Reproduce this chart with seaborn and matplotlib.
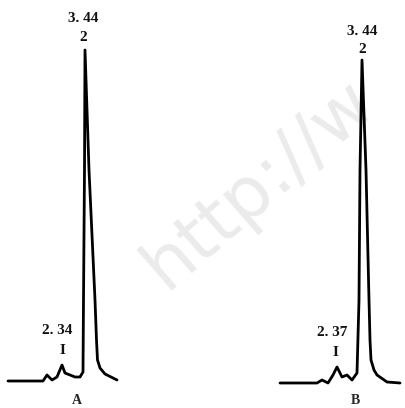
import matplotlib
matplotlib.use("Agg")
import matplotlib.pyplot as plt
import seaborn as sns
import pandas as pd

# ---- data (retention time in min, detector signal in a.u.) ----
time_a = [0.0, 1.75, 1.95, 2.20, 2.45, 2.70, 2.85, 3.10, 3.35, 3.60, 3.75, 3.775,
          3.825, 3.85, 4.05, 4.35, 4.425, 4.475, 4.60, 4.85, 5.25, 5.45]
signal_a = [0.0, 0.0, 0.6, 0.1, 0.4, 1.6, 0.8, 0.6, 0.4, 0.4, 0.9, 8.1,
            21.1, 33.1, 21.1, 8.1, 4.1, 2.1, 1.3, 0.7, 0.3, 0.1]

time_b = [0.0, 1.85, 2.10, 2.40, 2.65, 2.85, 3.10, 3.35, 3.60, 3.85, 3.95, 4.00,
          4.10, 4.30, 4.45, 4.50, 4.55, 4.70, 4.85, 5.35, 6.00]
signal_b = [0.0, 0.0, 0.3, 0.0, 0.8, 1.6, 0.6, 0.8, 0.3, 1.0, 8.3, 21.3,
            32.3, 21.3, 8.3, 4.3, 2.3, 1.3, 0.8, 0.1, 0.0]

peak_labels_a = ["2. 34", "3. 44"]
peak_labels_b = ["2. 37", "3. 44"]
peak_numbers = ["I", "2"]
panel_names = ["A", "B"]

sns.set_theme(style="white")
plt.rcParams["font.family"] = ["Liberation Serif", "DejaVu Serif"]

fig = plt.figure(figsize=(4.05, 4.08), dpi=100)
fig.patch.set_facecolor("white")

# watermark (behind everything)
fig.text(0.64, 0.55, "http://w", fontsize=52, color="#ebebeb", rotation=41,
         ha="center", va="center", family="DejaVu Sans", zorder=-5)

ax_a = fig.add_axes([0, 0, 200 / 405, 1])
ax_b = fig.add_axes([200 / 405, 0, 205 / 405, 1])

df_a = pd.DataFrame({"t": time_a, "s": signal_a})
df_b = pd.DataFrame({"t": time_b, "s": signal_b})

for ax, df in ((ax_a, df_a), (ax_b, df_b)):
    sns.lineplot(data=df, x="t", y="s", ax=ax, color="black", linewidth=2.0,
                 estimator=None, sort=False)
    ax.set_axis_off()
    ax.patch.set_alpha(0)

ax_a.set_xlim(-0.4, 9.6)
ax_a.set_ylim(-2.7, 38.1)
ax_b.set_xlim(-4.0, 6.25)
ax_b.set_ylim(-2.5, 38.3)

def label_peaks(ax, t, s, labels, main_off, small_off):
    # main peak (2) = global max, minor peak (I) = max before the main rise
    imax = max(range(len(s)), key=lambda i: s[i])
    ismall = max(range(imax - 4), key=lambda i: s[i])
    kw = dict(textcoords="offset pixels", ha="center", va="center",
              fontsize=11, fontweight="bold", color="#111111")
    ax.annotate(labels[1], (t[imax], s[imax]), xytext=(main_off[0], main_off[1]), **kw)
    ax.annotate(peak_numbers[1], (t[imax], s[imax]), xytext=(main_off[0], main_off[2]), **kw)
    ax.annotate(labels[0], (t[ismall], s[ismall]), xytext=(small_off[0], small_off[1]), **kw)
    ax.annotate(peak_numbers[0], (t[ismall], s[ismall]), xytext=(small_off[2], small_off[3]), **kw)

label_peaks(ax_a, time_a, signal_a, peak_labels_a, (-2, 32, 13), (-5, 35, 0, 15))
label_peaks(ax_b, time_b, signal_b, peak_labels_b, (0, 28, 10), (-5, 35, -2, 14))

fig.text(77 / 405, 1 - 400 / 408, panel_names[0], ha="center", va="center",
         fontsize=10, fontweight="bold")
fig.text(355 / 405, 1 - 400 / 408, panel_names[1], ha="center", va="center",
         fontsize=10, fontweight="bold")

fig.savefig("out.png", dpi=100, facecolor="white")
